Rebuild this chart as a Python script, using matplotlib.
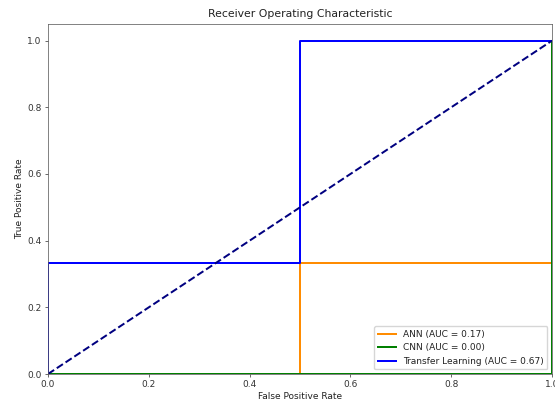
import matplotlib.pyplot as plt

s = 0.65  # the reference looks like a downscaled 10x8 figure

# ROC points
ann_fpr = [0.0, 0.5, 0.5, 1.0, 1.0]
ann_tpr = [0.0, 0.0, 1/3, 1/3, 1.0]
cnn_fpr = [0.0, 1.0, 1.0]
cnn_tpr = [0.0, 0.0, 1.0]
tl_fpr = [0.0, 0.0, 0.5, 0.5, 1.0]
tl_tpr = [0.0, 1/3, 1/3, 1.0, 1.0]
labels = ["ANN (AUC = 0.17)", "CNN (AUC = 0.00)", "Transfer Learning (AUC = 0.67)"]

plt.rcParams['font.size'] = 10 * s
plt.rcParams['axes.linewidth'] = 0.8 * s
plt.rcParams['axes.edgecolor'] = '#555555'
plt.rcParams['xtick.major.size'] = 3.5 * s
plt.rcParams['ytick.major.size'] = 3.5 * s
plt.rcParams['xtick.major.width'] = 0.8 * s
plt.rcParams['ytick.major.width'] = 0.8 * s
plt.rcParams['xtick.major.pad'] = 3.5 * s
plt.rcParams['ytick.major.pad'] = 3.5 * s
plt.rcParams['xtick.color'] = '#333333'
plt.rcParams['ytick.color'] = '#333333'
plt.rcParams['text.color'] = '#222222'
plt.rcParams['axes.labelcolor'] = '#222222'

fig = plt.figure(figsize=(5.55, 4.03), dpi=100)
ax = fig.add_axes([48/555, 29/403, 504/555, 350/403])

ax.plot(ann_fpr, ann_tpr, color='darkorange', lw=2.2*s, label=labels[0])
ax.plot(cnn_fpr, cnn_tpr, color='green', lw=2.2*s, label=labels[1])
ax.plot(tl_fpr, tl_tpr, color='blue', lw=2.2*s, label=labels[2])
ax.plot([0, 1], [0, 1], color='navy', lw=2.2*s, linestyle='--')
ax.set_xlim(0.0, 1.0)
ax.set_ylim(0.0, 1.05)
ax.set_xlabel('False Positive Rate', fontsize=10*s, labelpad=3.5*s)
ax.set_ylabel('True Positive Rate', fontsize=10*s, labelpad=4*s)
ax.set_title('Receiver Operating Characteristic', fontsize=12*s, pad=8*s)
ax.legend(loc='lower right', fontsize=10*s)

fig.savefig('out.png', dpi=100)
